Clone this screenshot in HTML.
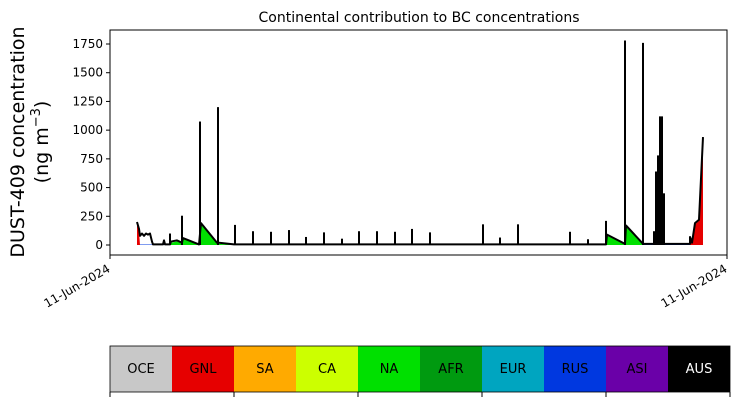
<!DOCTYPE html>
<html><head><meta charset="utf-8"><style>
body{margin:0;background:#fff;font-family:"Liberation Sans","DejaVu Sans",sans-serif}
svg text{font-family:"DejaVu Sans","Liberation Sans",sans-serif}
</style></head><body>
<svg id="c" width="739" height="402" viewBox="0 0 739 402" xmlns="http://www.w3.org/2000/svg">
<text x="419" y="22" font-size="14" text-anchor="middle">Continental contribution to BC concentrations</text>
<g transform="translate(24,142) rotate(-90)">
<text x="0" y="0" font-size="19" text-anchor="middle">DUST-409 concentration</text>
<text x="0" y="24" font-size="19" text-anchor="middle">(ng m<tspan dy="-8" font-size="13">−3</tspan><tspan dy="8">)</tspan></text>
</g>
<g id="plot"></g>
<g id="axes"></g>
<g id="cbar"></g>
</svg>
<script>
const hours=[0,2,3,5,7,9,11,13,15,16,26,27,28,33,34,40,45,46,62,64,80,82,97,469,470,488,489,506,507,516,553,553,555,558,562,566];
const totals=[200,140,80,100,80,100,90,100,30,5,5,40,5,5,30,40,20,60,5,190,20,20,5,5,90,10,170,10,10,10,10,70,20,190,220,940];
const naPart=[0,0,0,0,0,0,0,0,0,0,0,0,0,0,20,30,15,55,5,180,15,10,0,0,80,5,160,5,0,0,0,0,0,0,0,0];
const gnlPart=[190,120,0,0,0,0,0,0,0,0,0,0,0,0,0,0,0,0,0,0,0,0,0,0,0,0,0,0,0,0,0,60,15,180,210,880];
const spikeHours=[33,45,63,81,98,116,134,152,169,187,205,222,240,258,275,293,346,363,381,433,451,469,488,506,517,519,520,521,522,523,524,525,526,527];
const spikeValues=[100,255,1075,1200,175,120,115,130,70,110,55,120,120,115,140,110,180,65,180,115,50,210,1780,1760,120,640,200,780,300,1120,400,1120,200,450];
const yTicks=[0,250,500,750,1000,1250,1500,1750];
const regions=["OCE","GNL","SA","CA","NA","AFR","EUR","RUS","ASI","AUS"];
const regionColors=["#c8c8c8","#e60000","#ffaa00","#ccff00","#00e000","#009a10","#00a5c0","#0038e0","#6a00a8","#000000"];
const xTickLabels=["11-Jun-2024","11-Jun-2024"];

const NS="http://www.w3.org/2000/svg";
const X0=110,X1=727,Y0=30,Y1=255;
const xs=h=>137+h*(703-137)/566;
const ys=v=>245-v*(201/1750);
function mk(t,a,p){const e=document.createElementNS(NS,t);for(const k in a)e.setAttribute(k,a[k]);p.appendChild(e);return e;}
const plot=document.getElementById('plot'),axes=document.getElementById('axes'),cb=document.getElementById('cbar');
function area(vals,color,name){
  let d='M'+xs(hours[0])+','+ys(0);
  hours.forEach((h,i)=>{d+=' L'+xs(h)+','+ys(vals[i]);});
  d+=' L'+xs(hours[hours.length-1])+','+ys(0)+'Z';
  const p=mk('path',{d:d,fill:color},plot);
  
  
}
area(hours.map(()=>4),'#0038e0','eur-area');
area(naPart,'#00e000','na-area');
area(gnlPart,'#e60000','gnl-area');
let ld='';hours.forEach((h,i)=>{ld+=(i?' L':'M')+xs(h)+','+ys(totals[i]);});
const ln=mk('path',{d:ld,fill:'none',stroke:'#000','stroke-width':2,'stroke-linejoin':'round'},plot);


spikeHours.forEach((h,i)=>{
  const s=mk('line',{x1:xs(h),x2:xs(h),y1:ys(0),y2:ys(spikeValues[i]),stroke:'#000','stroke-width':2},plot);
  
  
});
const fr=mk('rect',{x:X0,y:Y0,width:X1-X0,height:Y1-Y0,fill:'none',stroke:'#000','stroke-width':1},axes);


yTicks.forEach(v=>{
  mk('line',{x1:X0-4,x2:X0,y1:ys(v),y2:ys(v),stroke:'#000'},axes);
  const t=mk('text',{x:X0-7,y:ys(v)+4,'font-size':12,'text-anchor':'end'},axes);
  t.textContent=v;
  
  
});
[X0,X1].forEach((x,i)=>{
  mk('line',{x1:x,x2:x,y1:Y1,y2:Y1+4,stroke:'#000'},axes);
  const t=mk('text',{transform:`translate(${x+1},${Y1+16}) rotate(-30)`,'font-size':12,'text-anchor':'end'},axes);
  t.textContent=xTickLabels[i];
  
  
});
const cw=62;
regions.forEach((r,i)=>{
  const x=110+i*cw;
  const b=mk('rect',{x:x,y:346,width:cw,height:46,fill:regionColors[i]},cb);
  
  
  const t=mk('text',{x:x+cw/2,y:373,'font-size':13,'text-anchor':'middle',fill:r==='AUS'?'#fff':'#000'},cb);
  t.textContent=r;
  
  
});
mk('rect',{x:110,y:346,width:620,height:46,fill:'none',stroke:'#000','stroke-width':0.8},cb);
[110,234,358,482,606,730].forEach(x=>mk('line',{x1:x,x2:x,y1:392,y2:397,stroke:'#000'},cb));
</script>
</body></html>
